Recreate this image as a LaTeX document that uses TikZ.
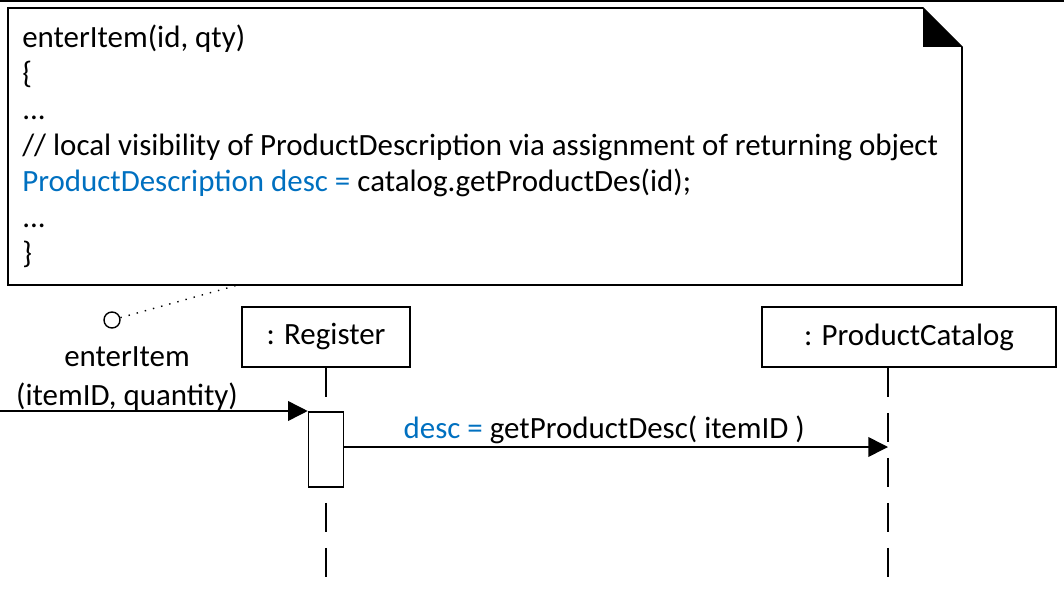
\documentclass[tikz,border=0pt]{standalone}
\usepackage{fontspec}
\setmainfont{Carlito}
\usepackage{xcolor}
\usetikzlibrary{arrows.meta,positioning,calc}
\definecolor{codeblue}{HTML}{0070C0}

\begin{document}
\begin{tikzpicture}[
    x=0.025cm, y=-0.025cm,
    obj/.style={draw, line width=1.1pt, rectangle, minimum height=1.5cm, inner sep=0pt, font=\fontsize{22}{27}\selectfont},
    lifeline/.style={line width=1.1pt, dash pattern=on 21pt off 11pt},
    msg/.style={line width=1.1pt, -{Triangle[length=14pt, width=14pt]}},
    lbl/.style={font=\fontsize{22}{27.7}\selectfont, inner sep=0pt}
]
\useasboundingbox (0,0) rectangle (1064,591);

% Top rule
\draw[line width=1.6pt] (0,1) -- (1064,1);

% Note with folded corner
\draw[line width=1.1pt] (8,8) -- (923,8) -- (962,47) -- (962,285) -- (8,285) -- cycle;
\fill (923,8) -- (962,47) -- (923,47) -- cycle;
\node[lbl, anchor=north west, align=left, font=\fontsize{22}{25.6}\selectfont] (code) at (22,25) {enterItem(id, qty)\\
{\{}\\
...\\
// local visibility of ProductDescription via assignment of returning object\\
\textcolor{codeblue}{ProductDescription desc =} catalog.getProductDes(id);\\
...\\
\}};
\coordinate (notefoot) at (238,285);

% Found message origin
\node[draw, circle, line width=1pt, minimum size=0.4cm, inner sep=0pt] (start) at (112,320) {};
\draw[line width=1pt, dash pattern=on 1pt off 5pt] (start) -- (notefoot);
\node[lbl, align=center] (call) at (127,379) {enterItem\\(itemID, quantity)};

% Objects
\node[obj, minimum width=4.2cm] (register) at (326,337) {: Register};
\node[obj, minimum width=7.35cm] (catalog) at (909,337) {: ProductCatalog};

% Lifelines
\coordinate (regend) at (326,577);
\coordinate (catend) at (888,577);
\draw[lifeline] (register.south) -- (regend);
\draw[lifeline] (catalog.south -| catend) -- (catend);

% Activation
\node[draw, fill=white, line width=1.1pt, minimum width=0.875cm, minimum height=1.875cm, inner sep=0pt, anchor=north] (act) at (326,411) {};

% Messages
\coordinate (in) at (0,411);
\coordinate (target) at (888,447);
\draw[msg] (in) -- (act.north west);
\draw[msg] (act.east |- target) -- node[lbl, above=2pt, xshift=-0.3cm] (desc) {\textcolor{codeblue}{desc =} getProductDesc( itemID )} (target);

\end{tikzpicture}
\end{document}
